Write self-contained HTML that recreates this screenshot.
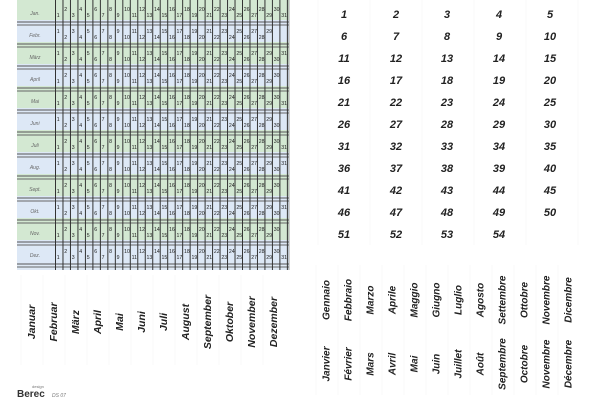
<!DOCTYPE html>
<html><head><meta charset="utf-8"><style>
html,body{margin:0;padding:0;background:#fff;}
svg{display:block;font-family:"Liberation Sans",sans-serif;}
</style></head><body>
<svg id="s" width="600" height="400" viewBox="0 0 600 400" xmlns="http://www.w3.org/2000/svg"></svg>
<script>
var s=document.getElementById('s'),h='';
var months=['Jan.','Febr.','März','April','Mai','Juni','Juli','Aug.','Sept.','Okt.','Nov.','Dez.'];
var days=[31,29,31,30,31,30,31,31,30,31,30,31];
var low=[1,0,0,1,1,0,1,0,1,0,1,1];
var x0=17,xl=55.5,cw=7.48,x1=289;
h+='<rect x="'+x0+'" y="0" width="'+(x1-x0)+'" height="270" fill="#dfe9f5"/>';
for(var k=0;k<12;k++){
  var y=k*22;
  h+='<rect x="'+x0+'" y="'+(y-2)+'" width="'+(x1-x0)+'" height="24" fill="'+(k%2?'#dde8f6':'#d3e8d2')+'"/>';
}
for(var k=0;k<12;k++){
  var y=k*22;
  h+='<line x1="'+x0+'" x2="'+x1+'" y1="'+(y+22)+'" y2="'+(y+22)+'" stroke="#555" stroke-width="1"/>';
  h+='<line x1="'+x0+'" x2="'+x1+'" y1="'+(y+25)+'" y2="'+(y+25)+'" stroke="#666" stroke-width="1"/>';
  h+='<text x="35" y="'+(y+15)+'" font-size="5" font-style="italic" fill="#666" text-anchor="middle">'+months[k]+'</text>';
  for(var d=1;d<=days[k];d++){
    var cx=xl+(d-1)*cw, lo=((d%2==1)==(low[k]==1));
    h+='<text x="'+(cx+1.3)+'" y="'+(y+(lo?17:11))+'" font-size="5.2" fill="#222">'+d+'</text>';
  }
}
for(var i=0;i<=31;i++){var xx=xl+i*cw;
  h+='<line x1="'+xx+'" x2="'+xx+'" y1="0" y2="270" stroke="#333" stroke-width="1"/>';}
h+='<line x1="'+x1+'" x2="'+x1+'" y1="0" y2="270" stroke="#666" stroke-width="0.6"/>';
var nx=[344,396,447,499,550];
for(var n=1;n<=54;n++){var r=Math.floor((n-1)/5),c=(n-1)%5;
  h+='<text x="'+nx[c]+'" y="'+(14+r*22+4)+'" font-size="11" font-weight="bold" font-style="italic" fill="#222" text-anchor="middle">'+n+'</text>';}
for(var c=0;c<6;c++){var xx=318+c*52;h+='<line x1="'+xx+'" x2="'+xx+'" y1="0" y2="245" stroke="#f3f3f3" stroke-width="0.5"/>';}
function vt(x,y,t,fs){return '<text transform="translate('+x+','+y+') rotate(-90)" font-size="'+fs+'" font-weight="bold" font-style="italic" fill="#222" text-anchor="middle" dominant-baseline="middle">'+t+'</text>';}
var de=['Januar','Februar','März','April','Mai','Juni','Juli','August','September','Oktober','November','Dezember'];
for(var i=0;i<12;i++){h+=vt(32+i*22,322,de[i],10.5);
  h+='<line x1="'+(21+i*22)+'" x2="'+(21+i*22)+'" y1="275" y2="365" stroke="#f3f3f3" stroke-width="0.5"/>';}
var it=['Gennaio','Febbraio','Marzo','Aprile','Maggio','Giugno','Luglio','Agosto','Settembre','Ottobre','Novembre','Dicembre'];
var fr=['Janvier','Février','Mars','Avril','Mai','Juin','Juillet','Août','Septembre','Octobre','Novembre','Décembre'];
for(var i=0;i<12;i++){h+=vt(327+i*22,300,it[i],10);h+=vt(327+i*22,364,fr[i],10);
  h+='<line x1="'+(316+i*22)+'" x2="'+(316+i*22)+'" y1="265" y2="395" stroke="#f3f3f3" stroke-width="0.5"/>';}
h+='<text x="17" y="397" font-size="10" font-weight="bold" fill="#333">Berec</text>';
h+='<text x="32" y="388" font-size="4" fill="#777">design</text>';
h+='<text x="52" y="397" font-size="5" font-style="italic" fill="#777">DS 07</text>';
s.innerHTML=h;
</script>
</body></html>
